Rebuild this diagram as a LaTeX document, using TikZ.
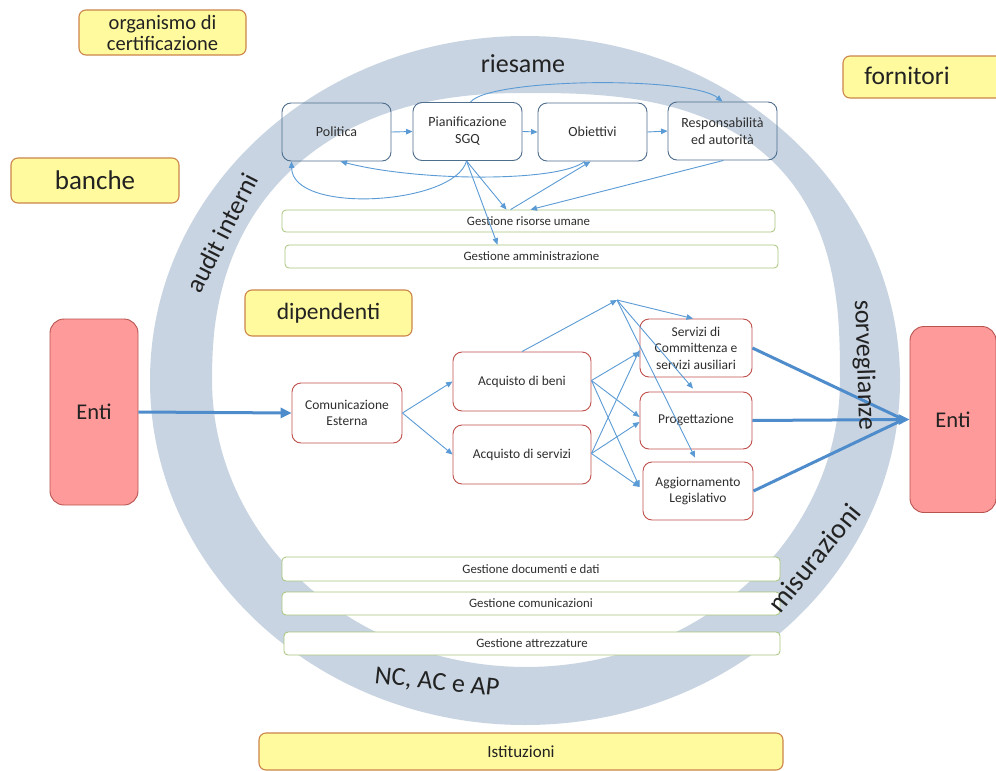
\documentclass[tikz,border=0pt]{standalone}
\usepackage{fontspec}
\setmainfont{Carlito}
\usetikzlibrary{arrows.meta,calc}
\definecolor{ringc}{HTML}{C8D4E1}
\definecolor{yelF}{HTML}{FFFA9E}
\definecolor{yelB}{HTML}{CC854A}
\definecolor{redF}{HTML}{FF9A9A}
\definecolor{redB}{HTML}{B85450}
\definecolor{topB}{HTML}{4E6E8E}
\definecolor{midB}{HTML}{C0504D}
\definecolor{barB}{HTML}{A6C57A}
\definecolor{arrC}{HTML}{5B9BD5}
\definecolor{arrT}{HTML}{4F8CCB}
\definecolor{txt}{HTML}{222222}
\definecolor{txtb}{HTML}{2E2E2E}
\tikzset{
  yel/.style={draw=yelB, fill=yelF, rounded corners=7, line width=1.1, text=txt, inner sep=0},
  redb/.style={draw=redB, fill=redF, rounded corners=14, line width=0.9, minimum width=88, minimum height=186, inner sep=0, font=\fontsize{22.5}{24}\selectfont, text=txt},
  topb/.style={draw=topB, rounded corners=9, line width=0.9, minimum width=109, minimum height=58, inner sep=0, align=center, font=\fontsize{14}{17}\selectfont, text=txtb},
  midb/.style={draw=midB, fill=white, rounded corners=9, line width=0.9, inner sep=0, align=center, font=\fontsize{13.5}{16.5}\selectfont, text=txtb},
  gbar/.style={draw=barB, fill=white, rounded corners=4, line width=0.8, inner sep=0, font=\fontsize{12.8}{14}\selectfont, text=txtb},
  ar/.style={draw=arrC, line width=0.9, -{Triangle[length=6.5pt,width=5.5pt]}},
  thk/.style={draw=arrT, line width=3, -{Triangle[length=11pt,width=10pt]}},
  thkn/.style={draw=arrT, line width=3},
  ringt/.style={font=\fontsize{26}{26}\selectfont, text=txt, inner sep=0},
}
\begin{document}
\begin{tikzpicture}[x=1pt,y=-1pt]
\useasboundingbox (0,0) rectangle (996,771);
\fill[white] (0,0) rectangle (996,771);
% ring: outer ellipse, inner rounded-square-ish top
\fill[ringc, even odd rule]
  (525,380.5) ellipse[x radius=375, y radius=344.5]
  plot[domain=0:90, samples=61, variable=\t]
    ({526+314*cos(\t)*pow(abs(cos(\t))+0.00001,-0.26)}, {380-287*pow(abs(sin(\t))+0.00001,0.74)})
  -- plot[domain=90:180, samples=61, variable=\t]
    ({526+314*cos(\t)*pow(abs(cos(\t))+0.00001,-0.13)}, {380-287*pow(abs(sin(\t))+0.00001,0.87)})
  -- plot[domain=180:360, samples=121, variable=\t] ({526+314*cos(\t)}, {380-287*sin(\t)}) -- cycle;

% outside labels
\node[yel, minimum width=167, minimum height=45, align=center, font=\fontsize{20.5}{21}\selectfont] (org) at (162.5,32.5) {organismo di\\certificazione};
\node[yel, minimum width=168, minimum height=45, font=\fontsize{27}{28}\selectfont] (ban) at (95,180.5) {banche};
\draw[yel] (843,56) rectangle (1010,98);
\node[font=\fontsize{25.5}{26}\selectfont, text=txt] (forn) at (907,76) {fornitori};
\node[yel, minimum width=167, minimum height=46, font=\fontsize{23.5}{24}\selectfont] (dip) at (328.5,313) {dipendenti};
\node[yel, minimum width=524, minimum height=37, font=\fontsize{17}{18}\selectfont] (ist) at (521,751.5) {Istituzioni};
\node[redb] (entL) at (94,412) {Enti};
\node[redb, minimum width=86] (entR) at (953,419.5) {Enti};

% top boxes
\node[topb] (pol) at (336.5,132) {Politica};
\node[topb] (pia) at (467.5,131.5) {Pianificazione\\SGQ};
\node[topb] (obi) at (592.5,132) {Obiettivi};
\node[topb] (res) at (722.5,131) {Responsabilità\\ed autorità};

% bars
\node[gbar, minimum width=493, minimum height=22] (ris) at (528.5,221) {Gestione risorse umane};
\node[gbar, minimum width=493, minimum height=23] (amm) at (531.5,256.5) {Gestione amministrazione};
\node[gbar, minimum width=498, minimum height=24] (doc) at (531,569) {Gestione documenti e dati};
\node[gbar, minimum width=498, minimum height=23] (com) at (531,603.5) {Gestione comunicazioni};
\node[gbar, minimum width=496, minimum height=23] (att) at (532,643.5) {Gestione attrezzature};

% middle boxes
\node[midb, minimum width=110, minimum height=60] (ce) at (347,413) {Comunicazione\\Esterna};
\node[midb, minimum width=138, minimum height=59] (ab) at (522,381.5) {Acquisto di beni};
\node[midb, minimum width=138, minimum height=59] (as) at (522,454.5) {Acquisto di servizi};
\node[midb, minimum width=112, minimum height=58] (sc) at (696,348) {Servizi di\\Committenza e\\servizi ausiliari};
\node[midb, minimum width=112, minimum height=57] (pr) at (696,420.5) {Progettazione};
\node[midb, minimum width=110, minimum height=58] (ag) at (698,491) {Aggiornamento\\Legislativo};
\coordinate (hub) at (617,300);

% top arrows
\draw[ar] (pol.east) -- (pia.west);
\draw[ar] (pia.east) -- (obi.west);
\draw[ar] (obi.east) -- (res.west);
\draw[ar] ([xshift=3]pia.north) .. controls (490,78) and (690,76) .. (res.north);
\draw[ar] ([xshift=-1]pia.south) .. controls (455,205) and (292,215) .. ([xshift=10]pol.south west);
\draw[ar] ([xshift=-8]obi.south) .. controls (560,182) and (420,182) .. ([xshift=4]pol.south);
\draw[ar] ([xshift=-18]ris.north) -- ([xshift=-2]obi.south);
\draw[ar] ([xshift=-1]pia.south) -- ([xshift=-22]ris.north);
\draw[ar] ([xshift=-1]pia.south) -- ([xshift=-34]amm.north);
\draw[ar] ([xshift=1]res.south) -- ([xshift=2]ris.north);

% middle arrows
\draw[thk] (entL.east) -- (ce.west);
\draw[ar] (ce.east) -- (ab.west);
\draw[ar] (ce.east) -- (as.west);
\draw[ar] (ab.north) -- (hub);
\draw[ar] (hub) -- ([xshift=-3]sc.north);
\draw[ar] (hub) -- ([xshift=-3,yshift=3]pr.north);
\draw[ar] (hub) -- ([xshift=-3,yshift=4]ag.north);
\draw[ar] ([yshift=1]ab.east) -- ([yshift=-4]sc.west);
\draw[ar] ([yshift=1]ab.east) -- ([yshift=3.5]pr.west);
\draw[ar] ([yshift=1]ab.east) -- ([xshift=-3,yshift=4]ag.west);
\draw[ar] ([yshift=1]as.east) -- ([yshift=-2]sc.west);
\draw[ar] ([yshift=1]as.east) -- ([yshift=-1.5]pr.west);
\draw[ar] ([yshift=1]as.east) -- ([xshift=-3,yshift=4]ag.west);
\draw[thkn] (sc.east) -- ([xshift=-6]entR.west);
\draw[thkn] (ag.east) -- ([xshift=-6]entR.west);
\draw[thk] (pr.east) -- (entR.west);

% ring texts
\node[ringt] (ries) at (523,64) {riesame};
\node[ringt, rotate=63] (aud) at (222,233) {audit interni};
\node[ringt, rotate=-88] (sorv) at (864,365) {sorveglianze};
\node[ringt, rotate=51, font=\fontsize{28}{28}\selectfont] (mis) at (814,558) {misurazioni};
\node[ringt, rotate=-6] (nc) at (437,683) {NC, AC e AP};
\end{tikzpicture}
\end{document}
